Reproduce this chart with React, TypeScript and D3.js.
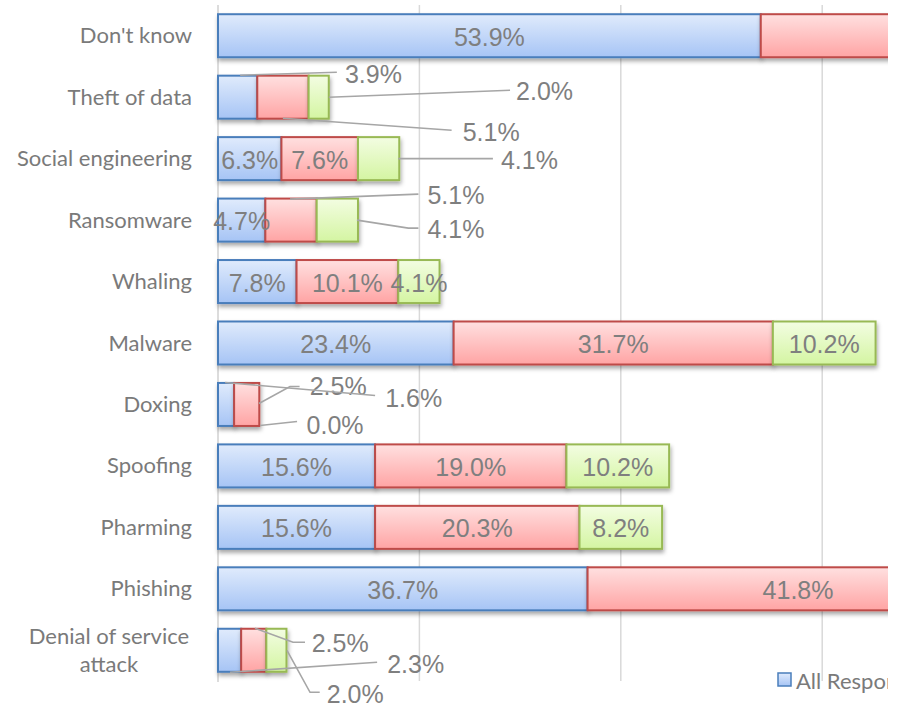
import React from "react";
import * as d3 from "d3";

const categories = [
  "Don't know",
  "Theft of data",
  "Social engineering",
  "Ransomware",
  "Whaling",
  "Malware",
  "Doxing",
  "Spoofing",
  "Pharming",
  "Phishing",
  "Denial of service attack",
];
const seriesNames = ["All Respondents", "IT Respondents", "Non-IT Respondents"];
const allRespondents = [53.9, 3.9, 6.3, 4.7, 7.8, 23.4, 1.6, 15.6, 15.6, 36.7, 2.3];
const itRespondents = [44.3, 5.1, 7.6, 5.1, 10.1, 31.7, 2.5, 19.0, 20.3, 41.8, 2.5];
const nonItRespondents = [26.5, 2.0, 4.1, 4.1, 4.1, 10.2, 0.0, 10.2, 8.2, 22.4, 2.0];
const gridTicks = [20, 40, 60, 80];

// Leader-line label layout (x in percent units, dy in px from band centre)
const leaderLabels = [
  { cat: "Theft of data", s: 0, line: [[2.2, -22], [11.8, -25]], at: [12.6, -24] },
  { cat: "Theft of data", s: 2, line: [[11.0, 0], [29.0, -7]], at: [29.6, -7] },
  { cat: "Theft of data", s: 1, line: [[6.45, 21], [23.2, 33]], at: [24.3, 34] },
  { cat: "Social engineering", s: 2, line: [[17.9, 0], [27.3, 0]], at: [28.1, 0] },
  { cat: "Ransomware", s: 1, line: [[7.15, -21], [19.9, -26]], at: [20.8, -26] },
  { cat: "Ransomware", s: 2, line: [[13.8, 0], [18.9, 8], [19.9, 8]], at: [20.8, 8] },
  { cat: "Doxing", s: 1, line: [[4.07, -1], [7.15, -18], [8.1, -18]], at: [9.1, -19] },
  { cat: "Doxing", s: 0, line: [[0.7, -22], [15.6, -9]], at: [16.6, -7] },
  { cat: "Doxing", s: 2, line: [[4.17, 21], [7.85, 17]], at: [8.8, 20] },
  { cat: "Denial of service attack", s: 1, line: [[3.67, -22], [7.45, -8], [8.64, -8]], at: [9.3, -8] },
  { cat: "Denial of service attack", s: 0, line: [[1.19, 22], [15.8, 12]], at: [16.8, 13] },
  { cat: "Denial of service attack", s: 2, line: [[6.85, 0], [9.14, 42], [10.1, 42]], at: [10.8, 43] },
];

const W = 888;
const H = 708;
const fills = [
  { top: "#e0ebfc", bottom: "#a6c4f5", stroke: "#4a7ebb" },
  { top: "#ffe0e0", bottom: "#ffa4a4", stroke: "#be4b48" },
  { top: "#f3fde2", bottom: "#d4f5a2", stroke: "#98b954" },
];

export default function App() {
  const x = d3.scaleLinear().domain([0, 100]).range([218, 218 + 1007]);
  const y = d3
    .scaleBand<string>()
    .domain(categories)
    .range([5, 681])
    .paddingInner(0.3)
    .paddingOuter(0.15);
  const series = [allRespondents, itRespondents, nonItRespondents];
  const stackData = categories.map((c, i) => ({
    cat: c,
    s0: allRespondents[i],
    s1: itRespondents[i],
    s2: nonItRespondents[i],
  }));
  const stacked = d3.stack<any>().keys(["s0", "s1", "s2"])(stackData);
  const leaderSet = new Set(leaderLabels.map((l) => l.cat + "|" + l.s));
  const bh = y.bandwidth();
  const valueFont = "'Liberation Sans', Arial, sans-serif";
  const catFont = "Lato, 'Open Sans', sans-serif";
  const fmt = (v: number) => v.toFixed(1) + "%";

  return (
    <svg
      width={W}
      height={H}
      style={{ position: "absolute", left: 0, top: 0, background: "#fff" }}
    >
      <defs>
        {fills.map((f, i) => (
          <linearGradient key={i} id={"g" + i} x1="0" y1="0" x2="0" y2="1">
            <stop offset="0%" stopColor={f.top} />
            <stop offset="100%" stopColor={f.bottom} />
          </linearGradient>
        ))}
        <filter id="shadow" x="-10%" y="-30%" width="120%" height="180%">
          <feDropShadow dx="1" dy="3" stdDeviation="2" floodColor="#000" floodOpacity="0.35" />
        </filter>
        <clipPath id="clip">
          <rect x={0} y={0} width={W} height={H} />
        </clipPath>
      </defs>
      <rect x={0} y={0} width={W} height={H} fill="#fff" />
      <g clipPath="url(#clip)">
        {gridTicks.map((t) => (
          <line
            key={t}
            x1={x(t)}
            x2={x(t)}
            y1={5}
            y2={681}
            stroke="#d9d9d9"
            strokeWidth={1.5}
          />
        ))}
        <line x1={x(0)} x2={x(0)} y1={5} y2={682} stroke="#d0d0d0" strokeWidth={1.5} />

        {stacked.map((layer, si) => (
          <g key={si} filter="url(#shadow)">
            {layer.map((d: any, i: number) => {
              const cat = categories[i];
              const x0 = x(d[0]);
              const x1 = x(d[1]);
              return (
                <rect
                  key={cat}
                  x={x0}
                  y={y(cat)!}
                  width={Math.max(0, x1 - x0)}
                  height={bh}
                  fill={`url(#g${si})`}
                  stroke={fills[si].stroke}
                  strokeWidth={2}
                />
              );
            })}
          </g>
        ))}

        {/* inside labels (those centred beyond the visible area are not drawn) */}
        {stacked.map((layer, si) =>
          layer.map((d: any, i: number) => {
            const cat = categories[i];
            if (leaderSet.has(cat + "|" + si)) return null;
            const cx = (x(d[0]) + x(d[1])) / 2;
            if (cx - 30 > W) return null;
            return (
              <text
                key={si + cat}
                x={cx}
                y={y(cat)! + bh / 2 + 1}
                textAnchor="middle"
                dominantBaseline="central"
                fontFamily={valueFont}
                fontSize={25}
                fill="#7f7f7f"
              >
                {fmt(series[si][i])}
              </text>
            );
          })
        )}

        {/* leader labels */}
        {leaderLabels.map((l, k) => {
          const i = categories.indexOf(l.cat);
          const cy = y(l.cat)! + bh / 2;
          const pts = l.line.map(([px, dy]) => [x(px), cy + dy] as [number, number]);
          return (
            <g key={k}>
              <path
                d={d3.line()(pts) || ""}
                fill="none"
                stroke="#a6a6a6"
                strokeWidth={1.6}
              />
              <text
                x={x(l.at[0])}
                y={cy + l.at[1] + 1}
                dominantBaseline="central"
                fontFamily={valueFont}
                fontSize={25}
                fill="#7f7f7f"
              >
                {fmt(series[l.s][i])}
              </text>
            </g>
          );
        })}

        {/* category labels */}
        {categories.map((c) => {
          const cy = y(c)! + bh / 2;
          if (c === "Denial of service attack") {
            return (
              <text
                key={c}
                textAnchor="middle"
                fontFamily={catFont}
                fontSize={22}
                fill="#7a7a7a"
              >
                <tspan x={109} y={cy - 15} dominantBaseline="central">
                  Denial of service
                </tspan>
                <tspan x={109} y={cy + 13} dominantBaseline="central">
                  attack
                </tspan>
              </text>
            );
          }
          return (
            <text
              key={c}
              x={192}
              y={cy - 1}
              textAnchor="end"
              dominantBaseline="central"
              fontFamily={catFont}
              fontSize={22}
              fill="#7a7a7a"
            >
              {c}
            </text>
          );
        })}

        {/* legend (only the first entry falls inside the visible area) */}
        {seriesNames.slice(0, 1).map((n, si) => {
          const lx = 778 + si * 200;
          return (
            <g key={n}>
              <rect
                x={lx}
                y={673}
                width={13}
                height={13}
                fill={`url(#g${si})`}
                stroke={fills[si].stroke}
                strokeWidth={1.5}
              />
              <text
                x={lx + 18}
                y={680}
                dominantBaseline="central"
                fontFamily={catFont}
                fontSize={22}
                fill="#7a7a7a"
              >
                {n}
              </text>
            </g>
          );
        })}
      </g>
    </svg>
  );
}
